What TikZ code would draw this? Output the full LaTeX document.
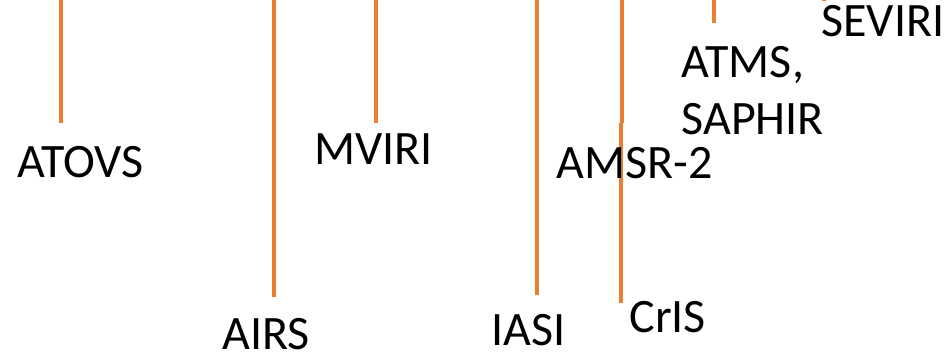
\documentclass[tikz,border=0pt]{standalone}
\usepackage{fontspec}
\setmainfont{Carlito}
\definecolor{stemorange}{HTML}{ED7D31}
\tikzset{every picture/.style={line width=0.75pt}}
\tikzset{
  stem/.style={draw=stemorange, line width=3pt},
  lbl/.style={anchor=base west, inner sep=0pt,
    font=\fontsize{36}{42.75}\selectfont}
}

\begin{document}
\begin{tikzpicture}[x=0.75pt,y=0.75pt,yscale=-1,xscale=1]
    \useasboundingbox (0,0) rectangle (948,356);
    %Stem ends
    \coordinate (atovs-a) at (60.5,0);
    \coordinate (atovs-b) at (60.5,123);
    \coordinate (airs-a) at (273.5,0);
    \coordinate (airs-b) at (273.5,297);
    \coordinate (mviri-a) at (375.5,0);
    \coordinate (mviri-b) at (375.5,123);
    \coordinate (iasi-a) at (537,0);
    \coordinate (iasi-b) at (537,295);
    \coordinate (amsr-a) at (621.7,0);
    \coordinate (amsr-b) at (621.7,123);
    \coordinate (cris-a) at (620.7,123);
    \coordinate (cris-b) at (620.7,303);
    \coordinate (atms-a) at (714,0);
    \coordinate (atms-b) at (714,23);
    \coordinate (seviri-a) at (824,0);
    \coordinate (seviri-b) at (824,1.5);
    %Straight Lines
    \draw[stem] (atovs-a) -- (atovs-b);
    \draw[stem] (airs-a) -- (airs-b);
    \draw[stem] (mviri-a) -- (mviri-b);
    \draw[stem] (iasi-a) -- (iasi-b);
    \draw[stem] (amsr-a) -- (amsr-b);
    \draw[stem] (cris-a) -- (cris-b);
    \draw[stem] (atms-a) -- (atms-b);
    \draw[stem] (seviri-a) -- (seviri-b);
    %Instrument names
    \node[lbl] (atovs) at (17,177) {ATOVS};
    \node[lbl] (airs) at (222,349) {AIRS};
    \node[lbl] (mviri) at (314,165) {MVIRI};
    \node[lbl] (iasi) at (491,345) {IASI};
    \node[lbl] (amsr) at (556,178) {AMSR-2};
    \node[lbl] (cris) at (629,332) {CrIS};
    \node[lbl, align=left] (atms) at (681,135) {ATMS,\\SAPHIR};
    \node[lbl] (seviri) at (821,37) {SEVIRI};
\end{tikzpicture}
\end{document}
